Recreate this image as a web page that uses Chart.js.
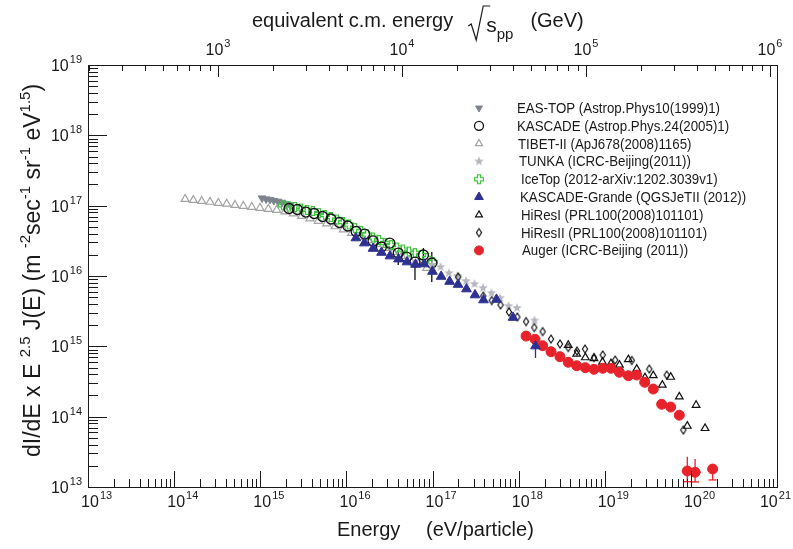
<!DOCTYPE html>
<html>
<head>
<meta charset="utf-8">
<script src="https://cdn.jsdelivr.net/npm/chart.js@4.4.1/dist/chart.umd.min.js"></script>
<style>
  html, body { margin: 0; padding: 0; background: #fff; }
  #wrap { width: 793px; height: 549px; }
</style>
</head>
<body>
<div id="wrap"><canvas id="c" width="793" height="549"></canvas></div>
<script>
// axis ranges
const xRange = [1e13, 1e21];          // energy, eV/particle
const yRange = [1e13, 1e19];          // dI/dE x E^2.5
const sqrtsRange = [196.6, 1.0914e6]; // equivalent c.m. energy, GeV
const xExps = [13, 14, 15, 16, 17, 18, 19, 20, 21];
const yExps = [13, 14, 15, 16, 17, 18, 19];
const topExps = [3, 4, 5, 6];

const legendLabels = [
  'EAS-TOP (Astrop.Phys10(1999)1)',
  'KASCADE (Astrop.Phys.24(2005)1)',
  'TIBET-II (ApJ678(2008)1165)',
  'TUNKA (ICRC-Beijing(2011))',
  'IceTop (2012-arXiv:1202.3039v1)',
  'KASCADE-Grande (QGSJeTII (2012))',
  'HiResI (PRL100(2008)101101)',
  'HiResII (PRL100(2008)101101)',
  'Auger (ICRC-Beijing (2011))'
];

// EAS-TOP
const easE = [1.05e15, 1.17e15, 1.30e15, 1.44e15, 1.61e15, 1.79e15, 1.99e15, 2.21e15];
const easF = [1.28e17, 1.24e17, 1.22e17, 1.18e17, 1.15e17, 1.11e17, 1.06e17, 1.02e17];

// KASCADE
const kasE = [2.16e15, 2.70e15, 3.38e15, 4.23e15, 5.30e15, 6.63e15, 8.30e15, 1.04e16, 1.30e16,
  1.63e16, 2.04e16, 2.55e16, 3.19e16, 4.00e16, 5.00e16, 6.26e16, 7.84e16, 9.81e16];
const kasF = [9.11e16, 8.82e16, 8.12e16, 7.74e16, 7.01e16, 6.46e16, 5.76e16, 5.14e16, 4.29e16,
  3.95e16, 3.15e16, 2.58e16, 2.94e16, 2.12e16, 1.86e16, 1.58e16, 1.99e16, 1.53e16];
const kasLo = [null, null, null, null, null, null, null, null, null,
  null, null, null, null, 1.43e16, null, 8.77e15, 1.80e16, 8.21e15];
const kasHi = [null, null, null, null, null, null, null, null, null,
  null, null, null, null, 2.34e16, null, 1.69e16, 2.50e16, 2.19e16];

// TIBET
const tibE = [1.34e14, 1.67e14, 2.09e14, 2.61e14, 3.26e14, 4.08e14, 5.09e14, 6.36e14, 7.96e14, 9.93e14,
  1.24e15, 1.55e15, 1.94e15, 2.42e15, 3.03e15, 3.78e15, 4.72e15, 5.91e15, 7.38e15, 9.21e15,
  1.15e16, 1.44e16, 1.80e16, 2.25e16, 2.81e16, 3.51e16, 4.39e16, 5.48e16, 6.84e16, 8.57e16];
const tibF = [1.24e17, 1.20e17, 1.16e17, 1.13e17, 1.09e17, 1.06e17, 1.02e17, 9.89e16, 9.57e16, 9.26e16,
  8.97e16, 8.68e16, 8.26e16, 7.74e16, 7.13e16, 6.57e16, 6.05e16, 5.58e16, 5.06e16, 4.58e16,
  4.09e16, 3.58e16, 3.20e16, 2.85e16, 2.50e16, 2.19e16, 1.92e16, 1.69e16, 1.48e16, 1.30e16];

// TUNKA
const tunE = [9.87e16, 1.24e17, 1.55e17, 1.95e17, 2.45e17, 3.07e17, 3.86e17, 4.84e17, 6.08e17, 7.63e17, 9.57e17, 1.53e18];
const tunF = [1.44e16, 1.34e16, 1.10e16, 1.00e16, 8.49e15, 7.69e15, 6.75e15, 5.73e15, 4.86e15, 3.74e15, 3.51e15, 2.33e15];

// IceTop
const iceE = [1.84e15, 2.16e15, 2.53e15, 2.97e15, 3.49e15, 4.10e15, 4.81e15, 5.65e15, 6.63e15, 7.78e15,
  9.14e15, 1.07e16, 1.26e16, 1.48e16, 1.74e16, 2.04e16, 2.39e16, 2.81e16, 3.30e16, 3.87e16,
  4.54e16, 5.33e16, 6.26e16, 7.36e16, 8.63e16, 1.01e17];
const iceF = [1.01e17, 9.73e16, 9.57e16, 9.11e16, 8.68e16, 8.40e16, 7.86e16, 7.37e16, 6.90e16, 6.36e16,
  5.86e16, 5.40e16, 4.81e16, 4.36e16, 3.89e16, 3.53e16, 3.25e16, 2.94e16, 2.76e16, 2.54e16,
  2.38e16, 2.23e16, 2.12e16, 1.99e16, 1.80e16, 1.58e16];

// KASCADE-Grande
const kgE = [1.29e16, 1.62e16, 2.04e16, 2.56e16, 3.21e16, 4.03e16, 5.06e16, 6.35e16, 7.97e16, 1.00e17,
  1.26e17, 1.58e17, 1.98e17, 2.48e17, 3.12e17, 3.91e17, 5.53e17, 8.61e17, 1.57e18];
const kgF = [3.47e16, 2.94e16, 2.46e16, 2.16e16, 1.92e16, 1.74e16, 1.58e16, 1.46e16, 1.48e16, 1.16e16,
  9.84e15, 8.35e15, 7.57e15, 6.53e15, 5.37e15, 4.56e15, 4.63e15, 2.57e15, 1.01e15];
const kgLo = [null, null, null, null, null, null, null, null, null, null,
  null, null, null, null, null, null, null, null, 6.82e14];
const kgHi = [null, null, null, null, null, null, null, null, null, null,
  null, null, null, null, null, null, null, null, 1.36e15];

// HiRes I
const hr1E = [3.77e18, 4.72e18, 5.95e18, 7.50e18, 9.42e18, 1.18e19, 1.48e19, 1.88e19, 2.35e19,
  2.93e19, 3.66e19, 4.66e19, 5.83e19, 7.34e19, 9.09e19, 1.15e20, 1.46e20];
const hr1F = [1.04e15, 7.78e14, 6.93e14, 6.71e14, 5.98e14, 5.70e14, 5.43e14, 6.50e14, 4.76e14,
  3.60e14, 3.85e14, 2.82e14, 3.66e14, 1.92e14, 7.36e13, 1.46e14, 6.83e13];

// HiRes II
const hr2E = [1.99e17, 3.89e17, 4.87e17, 6.16e17, 7.73e17, 9.66e17, 1.22e18, 1.52e18, 1.90e18, 2.38e18,
  3.02e18, 3.77e18, 4.76e18, 5.90e18, 7.50e18, 9.47e18, 1.32e19, 2.06e19, 3.29e19, 5.24e19, 8.17e19];
const hr2F = [9.68e15, 5.19e15, 4.48e15, 3.87e15, 3.08e15, 2.61e15, 2.25e15, 1.85e15, 1.62e15, 1.27e15,
  1.08e15, 9.62e14, 8.58e14, 9.16e14, 6.93e14, 7.53e14, 6.39e14, 6.29e14, 4.76e14, 3.91e14, 6.46e13];

// Auger
const augE = [1.22e18, 1.55e18, 1.90e18, 2.38e18, 3.02e18, 3.77e18, 4.72e18, 5.95e18, 7.50e18, 9.47e18,
  1.18e19, 1.48e19, 1.88e19, 2.35e19, 2.91e19, 3.66e19, 4.58e19, 5.83e19, 7.34e19, 9.09e19, 1.12e20, 1.79e20];
const augF = [1.40e15, 1.26e15, 1.02e15, 8.38e14, 7.12e14, 5.93e14, 5.30e14, 4.97e14, 4.71e14, 4.87e14,
  4.87e14, 4.27e14, 3.82e14, 3.91e14, 3.08e14, 2.47e14, 1.50e14, 1.37e14, 1.05e14, 1.69e13, 1.62e13, 1.80e13];
const augLo = [null, null, null, null, null, null, null, null, null, null,
  null, null, null, null, null, null, null, null, null, 1.19e13, 1.18e13, 1.26e13];
const augHi = [null, null, null, null, null, null, null, null, null, null,
  null, null, null, null, null, null, null, null, null, 2.70e13, 2.50e13, null];
const augXLo = [null, null, null, null, null, null, null, null, null, null,
  null, null, null, null, null, null, null, null, null, 7.83e19, 9.55e19, 1.57e20];
const augXHi = [null, null, null, null, null, null, null, null, null, null,
  null, null, null, null, null, null, null, null, null, 1.07e20, 1.30e20, 2.05e20];

// ---------- styling ----------
const FONT = '"Liberation Sans", Arial, Helvetica, sans-serif';
const NONE = 'rgba(0,0,0,0)';

function markerCanvas(size, draw) {
  const c = document.createElement('canvas');
  c.width = size; c.height = size;
  draw(c.getContext('2d'), size / 2);
  return c;
}
const starImg = markerCanvas(12, (g, h) => {
  g.fillStyle = '#b5b7bf';
  g.beginPath();
  for (let i = 0; i < 10; i++) {
    const r = i % 2 ? 2.1 : 5;
    const a = -Math.PI / 2 + i * Math.PI / 5;
    g.lineTo(h + r * Math.cos(a), h + r * Math.sin(a));
  }
  g.closePath();
  g.fill();
});
const crossImg = markerCanvas(12, (g, h) => {
  const a = 1.6, r = 4.4;
  g.strokeStyle = '#3cc43c';
  g.lineWidth = 1.1;
  g.beginPath();
  [[-a, -r], [a, -r], [a, -a], [r, -a], [r, a], [a, a], [a, r], [-a, r], [-a, a], [-r, a], [-r, -a], [-a, -a]]
    .forEach(([dx, dy]) => g.lineTo(h + dx, h + dy));
  g.closePath();
  g.stroke();
});
const diamondImg = markerCanvas(12, (g, h) => {
  g.strokeStyle = '#111';
  g.lineWidth = 1.2;
  g.beginPath();
  g.moveTo(h, h - 4); g.lineTo(h + 2.6, h); g.lineTo(h, h + 4); g.lineTo(h - 2.6, h);
  g.closePath();
  g.stroke();
});

const series = [
  { E: easE, F: easF, style: 'triangle', rot: 180, r: 4.4, fill: '#7d838c', stroke: '#7d838c', lw: 1, order: 7 },
  { E: kasE, F: kasF, style: 'circle', rot: 0, r: 5, fill: NONE, stroke: '#111', lw: 1.3, order: 5 },
  { E: tibE, F: tibF, style: 'triangle', rot: 0, r: 4.6, fill: NONE, stroke: '#a3a3a3', lw: 1.2, order: 8 },
  { E: tunE, F: tunF, style: starImg, rot: 0, r: 5, fill: NONE, stroke: NONE, lw: 0, order: 4 },
  { E: iceE, F: iceF, style: crossImg, rot: 0, r: 5, fill: NONE, stroke: NONE, lw: 0, order: 6 },
  { E: kgE, F: kgF, style: 'triangle', rot: 0, r: 5.6, fill: '#2e3192', stroke: '#2e3192', lw: 1, order: 0 },
  { E: hr1E, F: hr1F, style: 'triangle', rot: 0, r: 4.4, fill: NONE, stroke: '#111', lw: 1.2, order: 2 },
  { E: hr2E, F: hr2F, style: diamondImg, rot: 0, r: 4, fill: NONE, stroke: NONE, lw: 0, order: 3 },
  { E: augE, F: augF, style: 'circle', rot: 0, r: 5, fill: '#e8222a', stroke: '#e8222a', lw: 1, order: 1 }
];

const errorBars = [
  { E: kasE, F: kasF, lo: kasLo, hi: kasHi, color: '#111' },
  { E: kgE, F: kgF, lo: kgLo, hi: kgHi, color: '#2e3192' },
  { E: augE, F: augF, lo: augLo, hi: augHi, xlo: augXLo, xhi: augXHi, color: '#e8222a', cap: true }
];

function line(ctx, x1, y1, x2, y2) {
  ctx.beginPath(); ctx.moveTo(x1, y1); ctx.lineTo(x2, y2); ctx.stroke();
}

// "10" with a raised exponent; 'ten' centres the "10" on x, 'center' the whole label
function drawPow(ctx, x, base, exp, align) {
  ctx.font = '16px ' + FONT;
  const w1 = ctx.measureText('10').width;
  ctx.font = '11px ' + FONT;
  const w2 = ctx.measureText(exp).width;
  let x0 = x - (w1 + w2 + 1) / 2;
  if (align === 'right') x0 = x - w1 - w2 - 1;
  if (align === 'ten') x0 = Math.min(x - w1 / 2 + 2, 791 - w1 - w2 - 1);
  ctx.font = '16px ' + FONT;
  ctx.fillText('10', x0, base);
  ctx.font = '11px ' + FONT;
  ctx.fillText(exp, x0 + w1 + 1, base - 8);
}

// runs of text with different sizes / baseline shifts, drawn left to right
function drawRuns(ctx, runs, x, y) {
  runs.forEach(([t, size, dy]) => {
    ctx.font = size + 'px ' + FONT;
    ctx.fillText(t, x, y + dy);
    x += ctx.measureText(t).width;
  });
  return x;
}

const decor = {
  id: 'decor',
  beforeDatasetsDraw(chart) {
    const { ctx, scales: { x: sx, y: sy } } = chart;
    ctx.save();
    errorBars.forEach(b => {
      ctx.strokeStyle = b.color;
      ctx.lineWidth = 1.3;
      b.E.forEach((e, i) => {
        const px = sx.getPixelForValue(e), py = sy.getPixelForValue(b.F[i]);
        if (b.lo[i] != null) {
          const yLo = sy.getPixelForValue(b.lo[i]);
          const yHi = b.hi[i] != null ? sy.getPixelForValue(b.hi[i]) : py;
          line(ctx, px, yHi, px, yLo);
          if (b.cap) line(ctx, px - 4, yLo, px + 4, yLo);
        }
        if (b.xlo && b.xlo[i] != null) {
          line(ctx, sx.getPixelForValue(b.xlo[i]), py, sx.getPixelForValue(b.xhi[i]), py);
        }
      });
    });
    ctx.restore();
  },
  afterDraw(chart) {
    const { ctx, chartArea: a, scales: { x: sx, y: sy, x2: st } } = chart;
    ctx.save();
    ctx.strokeStyle = '#1a1a1a';
    ctx.fillStyle = '#1a1a1a';
    ctx.lineWidth = 1;
    ctx.strokeRect(a.left + 0.5, a.top + 0.5, a.right - a.left, a.bottom - a.top);

    // bottom ticks
    xExps.forEach(n => {
      for (let k = 1; k <= 9; k++) {
        const v = k * Math.pow(10, n);
        if (v > xRange[1] * 1.001) break;
        const px = Math.round(sx.getPixelForValue(v)) + 0.5;
        line(ctx, px, a.bottom, px, a.bottom - (k === 1 ? 16 : 8));
      }
    });
    // left ticks
    yExps.forEach(n => {
      for (let k = 1; k <= 9; k++) {
        const v = k * Math.pow(10, n);
        if (v > yRange[1] * 1.001) break;
        const py = Math.round(sy.getPixelForValue(v)) + 0.5;
        line(ctx, a.left, py, a.left + (k === 1 ? 19 : 10), py);
      }
    });
    // top (sqrt s) ticks
    for (let n = 2; n <= 6; n++) {
      for (let k = 1; k <= 9; k++) {
        const v = k * Math.pow(10, n);
        if (v < sqrtsRange[0] || v > sqrtsRange[1]) continue;
        const px = Math.round(st.getPixelForValue(v)) + 0.5;
        line(ctx, px, a.top, px, a.top + (k === 1 ? 12 : 6));
      }
    }

    // tick labels
    ctx.textAlign = 'left';
    ctx.textBaseline = 'alphabetic';
    xExps.forEach(n => drawPow(ctx, sx.getPixelForValue(Math.pow(10, n)), 507, String(n), 'ten'));
    yExps.forEach(n => drawPow(ctx, 82, sy.getPixelForValue(Math.pow(10, n)) + 6, String(n), 'right'));
    topExps.forEach(n => drawPow(ctx, st.getPixelForValue(Math.pow(10, n)), 55, String(n), 'center'));

    // axis titles
    ctx.font = '20px ' + FONT;
    ctx.fillText('Energy', 337, 536);
    ctx.fillText('(eV/particle)', 426, 536);

    let tx = drawRuns(ctx, [['equivalent c.m. energy', 20, 0]], 252, 27) + 15;
    ctx.lineWidth = 1.2;
    ctx.beginPath();
    ctx.moveTo(tx, 26); ctx.lineTo(tx + 3, 24); ctx.lineTo(tx + 8, 40); ctx.lineTo(tx + 15, 6); ctx.lineTo(tx + 22, 6);
    ctx.stroke();
    tx = drawRuns(ctx, [['s', 21, 0], ['pp', 15, 7]], tx + 18, 32);
    drawRuns(ctx, [['(GeV)', 20, 0]], tx + 17, 27);

    ctx.save();
    ctx.translate(40, 457);
    ctx.rotate(-Math.PI / 2);
    drawRuns(ctx, [
      ['dI/dE x E ', 23, 0], ['2.5', 15, -10], [' J(E) (m ', 23, 0], ['-2', 15, -10], ['sec', 23, 0],
      ['-1', 15, -10], [' sr', 23, 0], ['-1', 15, -10], [' eV', 23, 0], ['1.5', 15, -10], [')', 23, 0]
    ], 0, 0);
    ctx.restore();

    // legend
    const textX = [517, 517, 518, 519, 521, 520, 521, 521, 522];
    series.forEach((s, i) => {
      const ly = 108 + i * 17.8;
      ctx.fillStyle = s.fill;
      ctx.strokeStyle = s.stroke;
      ctx.lineWidth = s.lw;
      Chart.helpers.drawPoint(ctx, { pointStyle: s.style, rotation: s.rot, radius: s.r * 0.9, borderWidth: s.lw }, 479, ly);
      ctx.fillStyle = '#1a1a1a';
      ctx.save();
      ctx.translate(textX[i], ly + 5);
      ctx.scale(0.95, 1);
      ctx.font = '14px ' + FONT;
      ctx.fillText(legendLabels[i], 0, 0);
      ctx.restore();
    });
    ctx.restore();
  }
};

new Chart(document.getElementById('c'), {
  type: 'scatter',
  data: {
    datasets: series.map((s, i) => ({
      label: legendLabels[i],
      data: s.E.map((e, j) => ({ x: e, y: s.F[j] })),
      pointStyle: s.style,
      pointRotation: s.rot,
      pointRadius: s.r,
      pointHoverRadius: s.r,
      pointBackgroundColor: s.fill,
      pointBorderColor: s.stroke,
      pointBorderWidth: s.lw,
      showLine: false,
      order: s.order
    }))
  },
  options: {
    responsive: false,
    animation: false,
    devicePixelRatio: 1,
    layout: { padding: { left: 88, right: 16, top: 65, bottom: 62 } },
    plugins: { legend: { display: false }, tooltip: { enabled: false } },
    events: [],
    scales: {
      x: { type: 'logarithmic', min: xRange[0], max: xRange[1], display: false },
      y: { type: 'logarithmic', min: yRange[0], max: yRange[1], display: false },
      x2: { type: 'logarithmic', position: 'top', min: sqrtsRange[0], max: sqrtsRange[1], display: false }
    }
  },
  plugins: [decor]
});
</script>
</body>
</html>
